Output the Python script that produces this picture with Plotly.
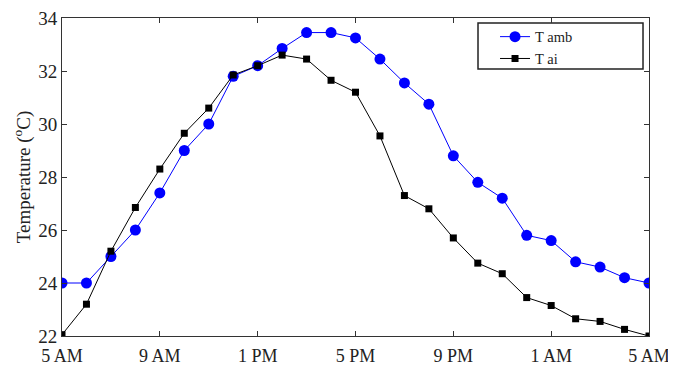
import plotly.graph_objects as go

hours = [0, 1, 2, 3, 4, 5, 6, 7, 8, 9, 10, 11, 12, 13, 14, 15, 16, 17, 18, 19, 20, 21, 22, 23, 24]
t_amb = [24.0, 24.0, 25.0, 26.0, 27.4, 29.0, 30.0, 31.8, 32.2, 32.85, 33.45, 33.45, 33.25, 32.45,
         31.55, 30.75, 28.8, 27.8, 27.2, 25.8, 25.6, 24.8, 24.6, 24.2, 24.0]
t_ai = [22.05, 23.2, 25.2, 26.85, 28.3, 29.65, 30.6, 31.85, 32.2, 32.6, 32.45, 31.65, 31.2, 29.55,
        27.3, 26.8, 25.7, 24.75, 24.35, 23.45, 23.15, 22.65, 22.55, 22.25, 22.0]
tick_vals = [0, 4, 8, 12, 16, 20, 24]
tick_text = ["5 AM", "9 AM", "1 PM", "5 PM", "9 PM", "1 AM", "5 AM"]
y_ticks = [22, 24, 26, 28, 30, 32, 34]

font = "Liberation Serif, Times New Roman, serif"

fig = go.Figure()
fig.add_trace(go.Scatter(x=hours, y=t_amb, name="T amb", mode="lines+markers",
                         line=dict(color="#0000ff", width=1),
                         marker=dict(symbol="circle", size=11, color="#0000ff")))
fig.add_trace(go.Scatter(x=hours, y=t_ai, name="T ai", mode="lines+markers",
                         line=dict(color="#000000", width=1),
                         marker=dict(symbol="square", size=7, color="#000000")))

axis_common = dict(showgrid=False, zeroline=False, showline=True, linecolor="#333333",
                   linewidth=1, mirror="ticks", ticks="inside", ticklen=5,
                   tickcolor="#333333", automargin=False, ticklabeloverflow="allow")

fig.update_xaxes(range=[0, 24], tickvals=tick_vals, ticktext=tick_text,
                 ticklabelstandoff=3, tickfont=dict(family=font, size=18, color="#222222"),
                 **axis_common)
fig.update_yaxes(range=[22, 34], tickvals=y_ticks,
                 tickfont=dict(family=font, size=19, color="#222222"),
                 title=dict(text="Temperature (<sup>o</sup>C)",
                            font=dict(family=font, size=19, color="#222222"), standoff=2),
                 **axis_common)

# legend frame (MATLAB-style box, wider than the entries)
fig.add_shape(type="rect", xref="paper", yref="paper",
              x0=0.7087, x1=0.9898, y0=0.8396, y1=0.984,
              line=dict(color="#222222", width=1.5), fillcolor="white", layer="below")

fig.update_layout(
    width=668, height=359,
    margin=dict(l=54, r=27, t=10, b=31),
    plot_bgcolor="white", paper_bgcolor="white",
    showlegend=True,
    legend=dict(x=0.7377, y=0.9915, xanchor="left", yanchor="top",
                borderwidth=0, bgcolor="rgba(0,0,0,0)",
                font=dict(family=font, size=14.5, color="#222222"),
                tracegroupgap=0, itemwidth=30),
)

fig.write_html("out.html")
